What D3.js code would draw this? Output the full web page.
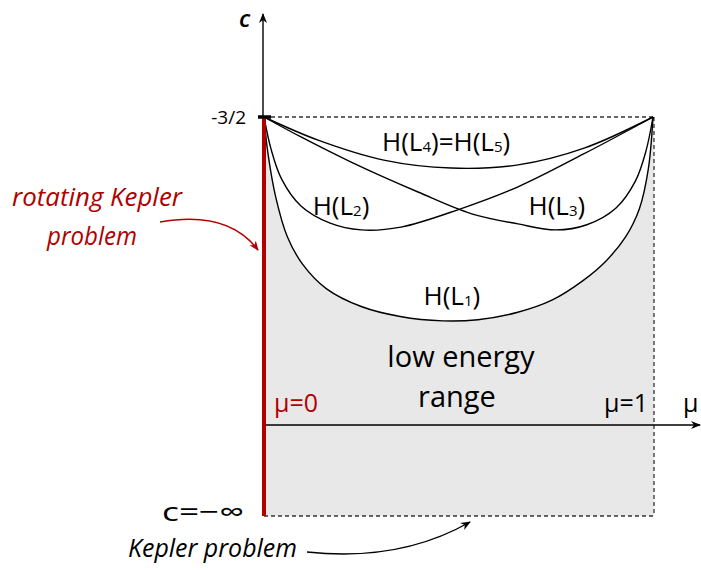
<!DOCTYPE html>
<html>
<head>
<meta charset="utf-8">
<script src="https://cdn.jsdelivr.net/npm/d3@7"></script>
<style>
  body { margin: 0; background: #fff; }
  text { font-family: "Open Sans", sans-serif; }
</style>
</head>
<body>
<div id="chart"></div>
<script>
// curves as [mu, depth] where depth 0 = c -3/2 and depth 1 = c -infinity
var curveL1 = [[0, 0], [0.01, 0.09], [0.03, 0.2], [0.06, 0.3], [0.1, 0.37], [0.16, 0.43],
	[0.25, 0.475], [0.35, 0.5], [0.46, 0.511], [0.55, 0.508], [0.65, 0.49], [0.74, 0.459],
	[0.82, 0.41], [0.88, 0.36], [0.93, 0.3], [0.965, 0.23], [0.988, 0.13], [1, 0]];
var curveL2 = [[0, 0], [0.018, 0.08], [0.045, 0.155], [0.095, 0.223], [0.17, 0.266], [0.25, 0.283],
	[0.352, 0.276], [0.5, 0.232], [0.653, 0.175], [0.823, 0.092], [1, 0]];
var curveL3 = [[0, 0], [0.095, 0.05], [0.224, 0.113], [0.396, 0.188], [0.532, 0.242], [0.653, 0.268],
	[0.75, 0.283], [0.83, 0.27], [0.905, 0.228], [0.955, 0.16], [0.982, 0.085], [1, 0]];
var curveL4 = [[0, 0], [0.139, 0.058], [0.308, 0.108], [0.481, 0.128], [0.653, 0.12], [0.823, 0.078], [1, 0]];

var curveLabels = [
	{ main: "H(L", sub: "1", x: 0.41, y: 0.47 },
	{ main: "H(L", sub: "2", x: 0.125, y: 0.245 },
	{ main: "H(L", sub: "3", x: 0.68, y: 0.245 }
];
var xTickLabels = ["μ=0", "μ=1"];
var yTickLabels = ["-3/2", "c=−∞"];

var width = 701, height = 571;
var red = "#b00000";

var svg = d3.select("#chart").append("svg")
	.attr("width", width)
	.attr("height", height);

var x = d3.scaleLinear().domain([0, 1]).range([264, 653]);
var y = d3.scaleLinear().domain([0, 1]).range([117, 516]);
var muAxisDepth = 0.772;

var defs = svg.append("defs");
function addArrow(id, color) {
	defs.append("marker")
		.attr("id", id)
		.attr("viewBox", "0 0 10 10")
		.attr("refX", 9).attr("refY", 5)
		.attr("markerWidth", 10).attr("markerHeight", 10)
		.attr("markerUnits", "userSpaceOnUse")
		.attr("orient", "auto")
		.append("path")
		.attr("d", "M0,1 L10,5 L0,9 L3,5 Z")
		.attr("fill", color);
}
addArrow("arrowBlack", "#000");
addArrow("arrowRed", red);

var line = d3.line()
	.x(function(d){ return x(d[0]); })
	.y(function(d){ return y(d[1]); })
	.curve(d3.curveCatmullRom.alpha(0.5));

// grey low energy region below H(L1)
var fillPath = line(curveL1) + "L" + (x(1) + 1) + "," + y(0) + "L" + (x(1) + 1) + "," + y(1) +
	"L" + x(0) + "," + y(1) + "Z";
svg.append("path")
	.attr("d", fillPath)
	.attr("fill", "#e8e8e8")
	.attr("stroke", "none");

// dashed frame
var dash = "4,3";
svg.append("line").attr("x1", x(0)).attr("x2", x(1)).attr("y1", y(0)).attr("y2", y(0))
	.attr("stroke", "#333").attr("stroke-width", 1.3).attr("stroke-dasharray", dash);
svg.append("line").attr("x1", x(1) + 1).attr("x2", x(1) + 1).attr("y1", y(0)).attr("y2", y(1))
	.attr("stroke", "#333").attr("stroke-width", 1.3).attr("stroke-dasharray", dash);
svg.append("line").attr("x1", x(0)).attr("x2", x(1) + 1).attr("y1", y(1)).attr("y2", y(1))
	.attr("stroke", "#333").attr("stroke-width", 1.3).attr("stroke-dasharray", dash);

// mu axis
svg.append("line")
	.attr("x1", x(0)).attr("x2", 700)
	.attr("y1", y(muAxisDepth)).attr("y2", y(muAxisDepth))
	.attr("stroke", "#000").attr("stroke-width", 1.4)
	.attr("marker-end", "url(#arrowBlack)");

// c axis
svg.append("line")
	.attr("x1", x(0) - 1).attr("x2", x(0) - 1)
	.attr("y1", y(0)).attr("y2", 14)
	.attr("stroke", "#000").attr("stroke-width", 1.4)
	.attr("marker-end", "url(#arrowBlack)");

// curves
[curveL1, curveL2, curveL3, curveL4].forEach(function(c){
	svg.append("path")
		.attr("d", line(c))
		.attr("fill", "none")
		.attr("stroke", "#000")
		.attr("stroke-width", 1.4);
});

// red mu=0 line
svg.append("line")
	.attr("x1", x(0)).attr("x2", x(0))
	.attr("y1", y(0)).attr("y2", y(1))
	.attr("stroke", red).attr("stroke-width", 4);

// -3/2 tick
svg.append("line")
	.attr("x1", x(0) - 6).attr("x2", x(0) + 7)
	.attr("y1", y(0)).attr("y2", y(0))
	.attr("stroke", "#000").attr("stroke-width", 3.5);

// curve labels
curveLabels.forEach(function(l){
	var t = svg.append("text")
		.attr("x", x(l.x)).attr("y", y(l.y))
		.attr("font-size", 26);
	t.append("tspan").text(l.main);
	t.append("tspan").text(l.sub).attr("font-size", 15).attr("dy", 1);
	t.append("tspan").text(")").attr("dy", -1);
});
var l45 = svg.append("text").attr("x", 382).attr("y", 151).attr("font-size", 26);
l45.append("tspan").text("H(L");
l45.append("tspan").text("4").attr("font-size", 15).attr("dy", 1);
l45.append("tspan").text(")=H(L").attr("dy", -1);
l45.append("tspan").text("5").attr("font-size", 15).attr("dy", 1);
l45.append("tspan").text(")").attr("dy", -1);

// axis texts
svg.append("text").text("c").attr("x", 239).attr("y", 27)
	.attr("font-size", 24).attr("font-style", "italic").attr("font-weight", 600);
svg.append("text").text(yTickLabels[0]).attr("x", 246).attr("y", 124)
	.attr("text-anchor", "end").attr("font-size", 19);
svg.append("text").text(yTickLabels[1]).attr("x", 244).attr("y", 521)
	.attr("text-anchor", "end").attr("font-size", 26)
	.attr("textLength", 82).attr("lengthAdjust", "spacingAndGlyphs");
svg.append("text").text(xTickLabels[0]).attr("x", 274).attr("y", 412)
	.attr("font-size", 25).attr("fill", red);
svg.append("text").text(xTickLabels[1]).attr("x", 648).attr("y", 412)
	.attr("text-anchor", "end").attr("font-size", 25);
svg.append("text").text("μ").attr("x", 683).attr("y", 412).attr("font-size", 25);

// region label
svg.append("text").text("low energy").attr("x", 461).attr("y", 367)
	.attr("text-anchor", "middle").attr("font-size", 29);
svg.append("text").text("range").attr("x", 457).attr("y", 407)
	.attr("text-anchor", "middle").attr("font-size", 29);

// annotations
svg.append("text").text("rotating Kepler").attr("x", 97).attr("y", 206)
	.attr("text-anchor", "middle").attr("font-size", 25).attr("font-style", "italic")
	.attr("fill", red).attr("textLength", 170).attr("lengthAdjust", "spacingAndGlyphs");
svg.append("text").text("problem").attr("x", 92).attr("y", 245)
	.attr("text-anchor", "middle").attr("font-size", 25).attr("font-style", "italic")
	.attr("fill", red).attr("textLength", 90).attr("lengthAdjust", "spacingAndGlyphs");
svg.append("path")
	.attr("d", "M160,222 Q228,210 258,250")
	.attr("fill", "none").attr("stroke", red).attr("stroke-width", 1.6)
	.attr("marker-end", "url(#arrowRed)");

svg.append("text").text("Kepler problem").attr("x", 128).attr("y", 557)
	.attr("font-size", 25).attr("font-style", "italic")
	.attr("textLength", 169).attr("lengthAdjust", "spacingAndGlyphs");
svg.append("path")
	.attr("d", "M307,552 Q400,562 470,522")
	.attr("fill", "none").attr("stroke", "#000").attr("stroke-width", 1.4)
	.attr("marker-end", "url(#arrowBlack)");
</script>
</body>
</html>
